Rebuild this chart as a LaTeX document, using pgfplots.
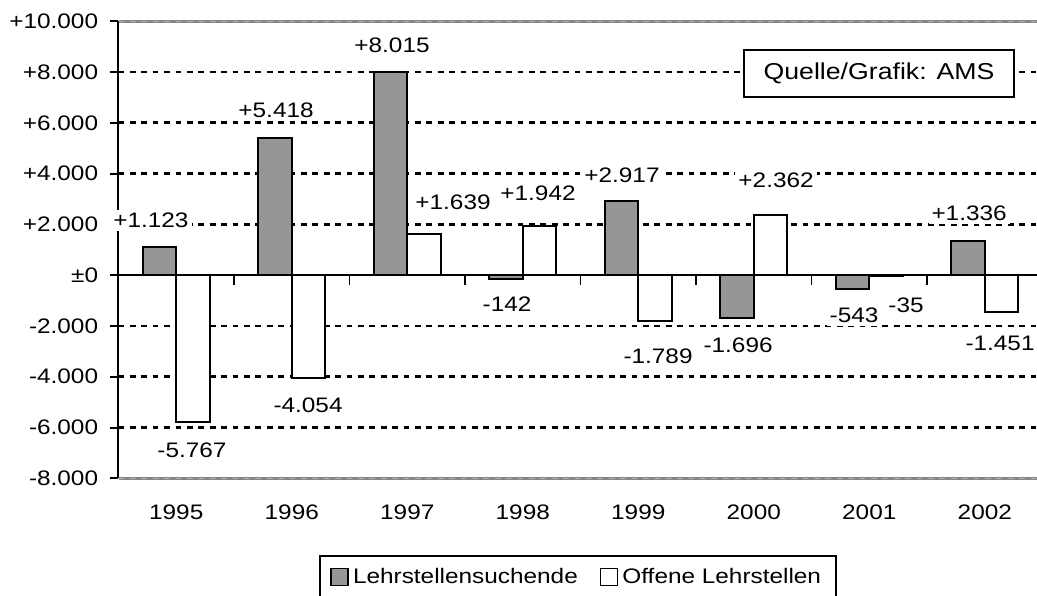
\documentclass[border=0pt]{standalone}
\usepackage{fontspec}
\setmainfont[FakeStretch=1.16]{Liberation Sans}
\usepackage{pgfplots}
\pgfplotsset{compat=1.18}
\definecolor{barGray}{RGB}{150,150,150}
\definecolor{lineGray}{RGB}{135,135,135}
\definecolor{lineLight}{RGB}{175,175,175}
\tikzset{lbl/.style={fill=white, inner sep=1.5pt, anchor=center}}
\begin{document}
\fontsize{10.5}{12.6}\selectfont
\begin{tikzpicture}
\useasboundingbox (-59.25pt,-58.35pt) rectangle (459.25pt,239.15pt);
\draw[lineGray, line width=1.3pt] (0pt,228.5pt) -- (459.25pt,228.5pt);
\draw[lineLight, line width=0.6pt, dash pattern=on 2.9pt off 2.8pt] (0pt,228.5pt) -- (459.25pt,228.5pt);
\draw[lineGray, line width=1.3pt] (0pt,0pt) -- (459.25pt,0pt);
\draw[lineLight, line width=0.6pt, dash pattern=on 2.9pt off 2.8pt] (0pt,0pt) -- (459.25pt,0pt);
\begin{axis}[
  at={(0,0)}, anchor=south west,
  scale only axis, width=459.25pt, height=228.5pt,
  xmin=-0.5, xmax=7.452, ymin=-8000, ymax=10000,
  ybar=0pt, bar width=16.75pt,
  axis y line*=left, axis x line*=bottom,
  axis line style={-},
  x axis line style={draw=none},
  y axis line style={draw=black, line width=1pt},
  scaled y ticks=false,
  xtick={0,1,2,3,4,5,6,7},
  xticklabels={1995,1996,1997,1998,1999,2000,2001,2002},
  xtick style={draw=none},
  ytick={-8000,-6000,-4000,-2000,0,2000,4000,6000,8000,10000},
  yticklabels={-8.000,-6.000,-4.000,-2.000,±0,+2.000,+4.000,+6.000,+8.000,+10.000},
  ytick style={black, line width=1pt},
  tick align=outside, major tick length=4pt,
  yticklabel style={xshift=-2.5pt},
  xticklabel style={yshift=-5.5pt},
  clip=false,
  legend columns=2,
  legend image code/.code={\draw[#1, line width=0.8pt] (0pt,-4.25pt) rectangle (8.5pt,4.25pt);},
  legend style={at={(axis description cs:0.5,0)}, anchor=north, yshift=-38.35pt,
    draw=black, line width=1pt, inner xsep=5.25pt, inner ysep=4pt,
    /tikz/every even column/.append style={column sep=9pt}},
]
\pgfplotsinvokeforeach{-6000,-4000,-2000,2000,4000,6000,8000}{
  \draw[black, line width=1.4pt, dash pattern=on 2.9pt off 2.8pt] (axis cs:-0.5,#1) -- (axis cs:7.452,#1);
}

\addplot[fill=barGray, draw=black, line width=1pt] coordinates
  {(0,1123) (1,5418) (2,8015) (3,-142) (4,2917) (5,-1696) (6,-543) (7,1336)};
\addplot[fill=white, draw=black, line width=1pt] coordinates
  {(0,-5767) (1,-4054) (2,1639) (3,1942) (4,-1789) (5,2362) (6,-35) (7,-1451)};
\legend{Lehrstellensuchende, Offene Lehrstellen}

\draw[black, line width=1pt] (axis cs:-0.5,0) -- (axis cs:7.452,0);
\pgfplotsinvokeforeach{0.5,1.5,2.5,3.5,4.5,5.5,6.5}{
  \draw[black, line width=0.9pt] (axis cs:#1,0) -- ++(0pt,-5pt);
}

\node[lbl] at (axis cs:-0.219,2165) {+1.123};
\node[lbl] at (axis cs:0.136,-6890) {-5.767};
\node[lbl] at (axis cs:0.864,6496) {+5.418};
\node[lbl] at (axis cs:1.141,-5118) {-4.054};
\node[lbl] at (axis cs:1.868,9055) {+8.015};
\node[lbl] at (axis cs:2.396,2874) {+1.639};
\node[lbl] at (axis cs:3.132,3228) {+1.942};
\node[lbl] at (axis cs:2.864,-1142) {-142};
\node[lbl] at (axis cs:3.859,3937) {+2.917};
\node[lbl] at (axis cs:4.171,-3189) {-1.789};
\node[lbl] at (axis cs:5.193,3740) {+2.362};
\node[lbl] at (axis cs:4.864,-2756) {-1.696};
\node[lbl] at (axis cs:5.868,-1575) {-543};
\node[lbl] at (axis cs:6.318,-1181) {-35};
\node[lbl] at (axis cs:6.864,2441) {+1.336};
\node[lbl] at (axis cs:7.132,-2677) {-1.451};

\node[draw=black, line width=1pt, fill=white, minimum width=135pt, minimum height=23.5pt,
  font=\fontsize{11.5}{13.8}\selectfont] at (axis cs:6.084,7953) {Quelle/Grafik: AMS};
\end{axis}
\end{tikzpicture}
\end{document}
